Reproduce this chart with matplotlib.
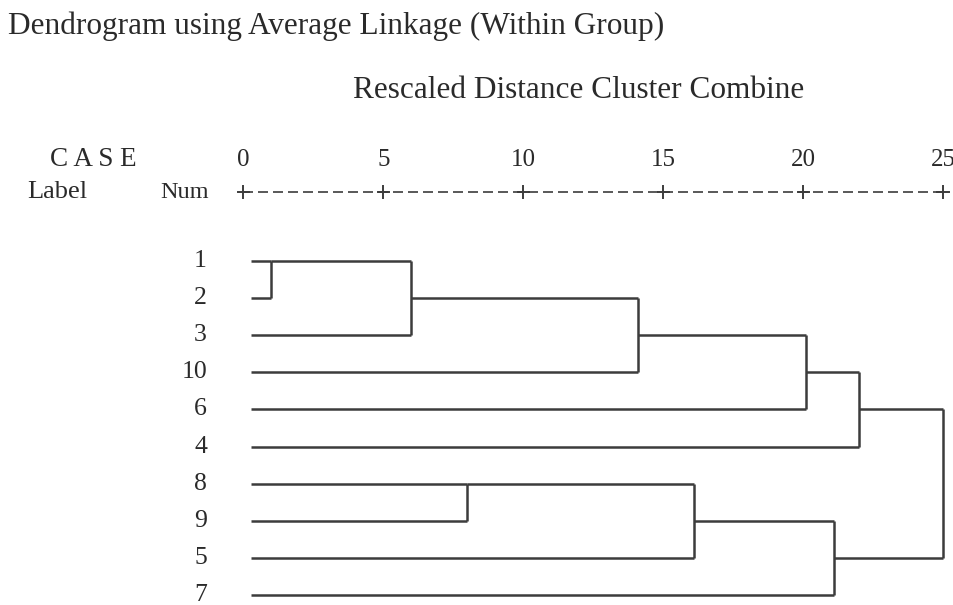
import numpy as np
import matplotlib.pyplot as plt

# SPSS style dendrogram (hierarchical cluster, average linkage)
title = 'Dendrogram using Average Linkage (Within Group)'
subtitle = 'Rescaled Distance Cluster Combine'
leaf_labels = ['1', '2', '3', '10', '6', '4', '8', '9', '5', '7']

# merges, scipy-like: ids 0..9 are the leaves in display order, new clusters get 10, 11, ...
merge_a = [0, 10, 11, 12, 13, 6, 15, 16, 14]
merge_b = [1, 2, 3, 4, 5, 7, 8, 9, 17]
merge_dist = [1.0, 6.0, 14.1, 20.1, 22.0, 8.0, 16.1, 21.1, 25.0]

tick_values = [0, 5, 10, 15, 20, 25]

W, H = 954, 605
px_per_unit = 27.98
x0_px = 243.5
row0_px = 261.0
row_px = 37.11

fig = plt.figure(figsize=(W / 100, H / 100), dpi=100)
ax = fig.add_axes([0, 0, 1, 1])
ax.set_xlim(-x0_px / px_per_unit, (W - x0_px) / px_per_unit)
ax.set_ylim((H - row0_px) / row_px, -row0_px / row_px)
ax.axis('off')

line_kw = dict(color='#3c3c3c', lw=1.8, solid_capstyle='butt')
font = ['Liberation Serif', 'DejaVu Serif']
txt_kw = dict(color='#2a2a2a', family=font)

# position (x, row) of every node
n = len(leaf_labels)
pos = {i: (0.26, i) for i in range(n)}
parent_x = {}
for k, (a, b, d) in enumerate(zip(merge_a, merge_b, merge_dist)):
    new_id = n + k
    parent_x[a] = d
    parent_x[b] = d
    ya, yb = pos[a][1], pos[b][1]
    ax.plot([d, d], [ya, yb], **line_kw)
    pos[new_id] = (d, (ya + yb) // 2)

for node, (x, y) in pos.items():
    if node in parent_x:
        ax.plot([x, parent_x[node]], [y, y], **line_kw)

# leaf labels
for i, lab in enumerate(leaf_labels):
    ax.text(-36.5 / px_per_unit, i, lab, ha='right', va='center', fontsize=18.5, **txt_kw)

# scale line with + ticks
axis_row = (191.7 - row0_px) / row_px
num_row = (160 - row0_px) / row_px
ax.plot([tick_values[0], tick_values[-1]], [axis_row, axis_row], color='#3c3c3c',
        lw=1.2, linestyle=(0, (6, 3)))
tick_h = 6 / row_px
for t in tick_values:
    ax.plot([t - 0.2, t + 0.2], [axis_row, axis_row], color='#3c3c3c', lw=1.4)
    ax.plot([t, t], [axis_row - tick_h, axis_row + tick_h], color='#3c3c3c', lw=1.4)
    ax.text(t, num_row, str(t), ha='center', va='center', fontsize=18, **txt_kw)

# header texts (pixel positions converted to figure fractions)
fig.text(8 / W, 1 - 26 / H, title, ha='left', va='center', fontsize=22.5, **txt_kw)
fig.text(579 / W, 1 - 90 / H, subtitle, ha='center', va='center', fontsize=22.5, **txt_kw)
fig.text(50 / W, 1 - 160 / H, 'C A S E', ha='left', va='center', fontsize=19.5, **txt_kw)
fig.text(27 / W, 1 - 192 / H, 'Label', ha='left', va='center', fontsize=19, **txt_kw)
fig.text(209 / W, 1 - 192 / H, 'Num', ha='right', va='center', fontsize=17.5, **txt_kw)

fig.savefig('out.png', dpi=100, facecolor='white')
